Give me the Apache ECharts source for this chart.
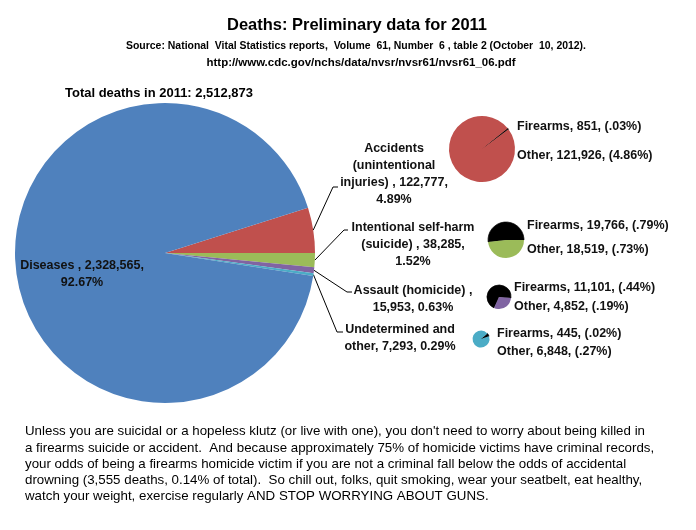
<!DOCTYPE html>
<html><head><meta charset="utf-8">
<script src="https://cdn.jsdelivr.net/npm/echarts@6/dist/echarts.min.js"></script>
<style>html,body{margin:0;padding:0;background:#fff}#c{width:696px;height:530px}</style>
</head><body><div id="c"></div>
<script>
// ---- data ----
const categories = ['Accidents\n(unintentional\ninjuries)', 'Intentional self-harm\n(suicide)', 'Assault (homicide)', 'Undetermined and\nother', 'Diseases'];
const deaths = [122777, 38285, 15953, 7293, 2328565];
const labelTemplates = ['{name} , {value},\n{pct}%', '{name} , {value},\n{pct}%', '{name} ,\n{value}, {pct}%', '{name}, {value}, {pct}%', '{name} , {value},\n{pct}%'];
const firearmsDeaths = [851, 19766, 11101, 445];
const otherDeaths = [121926, 18519, 4852, 6848];
const firearmsPct = ['.03', '.79', '.44', '.02'];
const otherPct = ['4.86', '.73', '.19', '.27'];
const titleText = 'Deaths: Preliminary data for 2011';
const sourceText = 'Source: National  Vital Statistics reports,  Volume  61, Number  6 , table 2 (October  10, 2012).';
const urlText = 'http://www.cdc.gov/nchs/data/nvsr/nvsr61/nvsr61_06.pdf';
const noteLines = [
  "Unless you are suicidal or a hopeless klutz (or live with one), you don't need to worry about being killed in",
  "a firearms suicide or accident.  And because approximately 75% of homicide victims have criminal records,",
  "your odds of being a firearms homicide victim if you are not a criminal fall below the odds of accidental",
  "drowning (3,555 deaths, 0.14% of total).  So chill out, folks, quit smoking, wear your seatbelt, eat healthy,",
  "watch your weight, exercise regularly AND STOP WORRYING ABOUT GUNS."
];

// ---- styles / layout ----
const palette = ['#c0504d', '#9bbb59', '#8064a2', '#4bacc6', '#4f81bd'];
const FONT = '"Liberation Sans", Arial, sans-serif';
const fmt = n => n.toLocaleString('en-US');
const total = deaths.reduce((a, b) => a + b, 0);

const ctx = document.createElement('canvas').getContext('2d');
function fitScale(text, font, targetWidth) {
  ctx.font = font;
  return targetWidth / ctx.measureText(text).width;
}

const mainLabelPos = [
  { x: 394, y: 174, elbow: [333, 187], end: [338, 187] },
  { x: 413, y: 245, elbow: [344, 230], end: [348, 230] },
  { x: 413, y: 299, elbow: [347, 292], end: [352, 292] },
  { x: 400, y: 338, elbow: [337, 332], end: [343, 332] },
  { x: 82, y: 274 }
];
const smallPies = [
  { center: [482, 149], r: 33, start: 39, lx: 517, ly: [127, 156] },
  { center: [506, 240], r: 18, start: 186, lx: 527, ly: [226, 250] },
  { center: [499, 297], r: 12, start: 245.5, lx: 514, ly: [288, 307] },
  { center: [481, 339], r: 8.5, start: 41, lx: 497, ly: [334, 352] }
];

const chart = echarts.init(document.getElementById('c'), null, { renderer: 'canvas' });

const series = [{
  type: 'pie',
  center: [165, 253],
  radius: 150,
  startAngle: deaths[0] / total * 360,
  clockwise: true,
  avoidLabelOverlap: false,
  percentPrecision: 2,
  animation: false,
  silent: true,
  data: categories.map((c, i) => ({
    name: c, value: deaths[i],
    itemStyle: { color: palette[i] },
    labelLine: { show: i < 4 }
  })),
  label: {
    show: true, position: 'outside',
    fontFamily: FONT, fontSize: 12.5, fontWeight: 'bold', color: '#111', lineHeight: 17, align: 'center',
    formatter: p => labelTemplates[p.dataIndex].replace('{name}', p.name).replace('{value}', fmt(p.value)).replace('{pct}', p.percent.toFixed(2))
  },
  labelLine: { show: true, length: 10, length2: 10, lineStyle: { color: '#000', width: 1 } },
  labelLayout: p => {
    const s = mainLabelPos[p.dataIndex];
    const out = { x: s.x, y: s.y, align: 'center', verticalAlign: 'middle' };
    if (s.elbow && p.labelLinePoints) {
      out.labelLinePoints = [p.labelLinePoints[0], s.elbow, s.end];
    }
    return out;
  }
}];

smallPies.forEach((sp, i) => {
  series.push({
    type: 'pie',
    center: sp.center,
    radius: sp.r,
    startAngle: sp.start,
    clockwise: true,
    avoidLabelOverlap: false,
    animation: false,
    silent: true,
    data: [
      { name: 'Firearms', value: firearmsDeaths[i], itemStyle: { color: '#000', borderColor: '#000', borderWidth: 0.7 } },
      { name: 'Other', value: otherDeaths[i], itemStyle: { color: palette[i] } }
    ],
    label: {
      show: true, position: 'outside',
      fontFamily: FONT, fontSize: 12.5, fontWeight: 'bold', color: '#111',
      formatter: p => `${p.name}, ${fmt(p.value)}, (${p.dataIndex === 0 ? firearmsPct[i] : otherPct[i]}%)`
    },
    labelLine: { show: false },
    labelLayout: p => ({ x: sp.lx, y: sp.ly[p.dataIndex], align: 'left', verticalAlign: 'middle' })
  });
});

function txt(text, x, y, font, width, align, extra) {
  const s = fitScale(text.split('\n')[0], font, width);
  return {
    type: 'text', x, y, scaleX: s, scaleY: 1, silent: true,
    style: Object.assign({ text, font, fill: '#000', textAlign: align, textVerticalAlign: 'middle', align, verticalAlign: 'middle' }, extra || {})
  };
}

const totalText = 'Total deaths in 2011: ' + fmt(total);
chart.setOption({
  animation: false,
  backgroundColor: '#fff',
  series,
  graphic: [
    txt(titleText, 357, 25, 'bold 17px ' + FONT, 260, 'center'),
    txt(sourceText, 356, 46, 'bold 11px ' + FONT, 460, 'center'),
    txt(urlText, 361, 63, 'bold 11px ' + FONT, 309, 'center'),
    txt(totalText, 65, 93, 'bold 13.5px ' + FONT, 188, 'left'),
    txt(noteLines.join('\n'), 25, 464, '13.5px ' + FONT, 620, 'left', { lineHeight: 16.2 })
  ]
});
</script>
</body></html>
